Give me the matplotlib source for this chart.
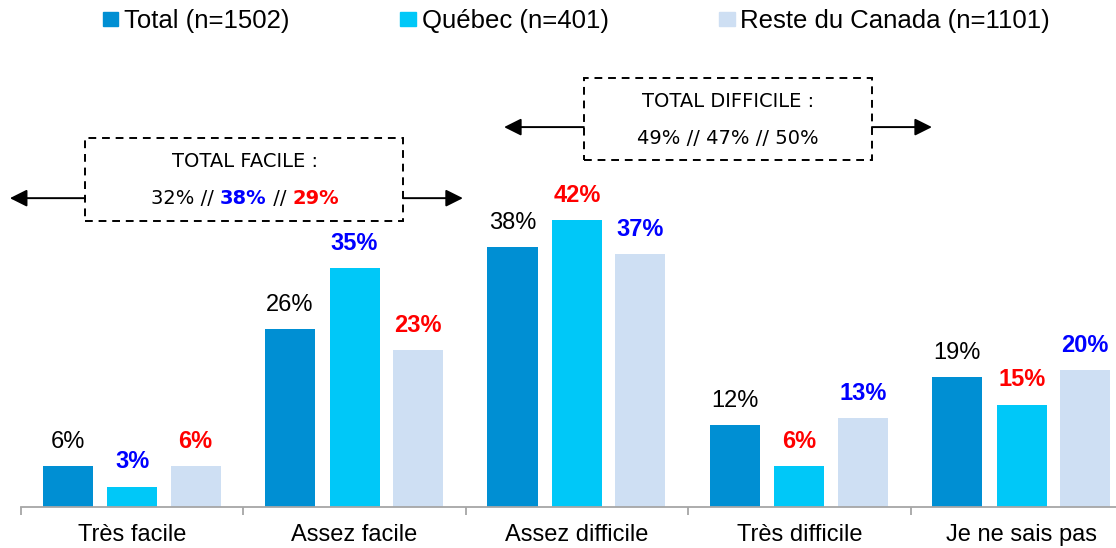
import matplotlib
matplotlib.use('Agg')
import matplotlib.pyplot as plt
from matplotlib.patches import Patch, Rectangle
from matplotlib.offsetbox import TextArea, HPacker, AnnotationBbox
import numpy as np

plt.rcParams['font.family'] = ['Liberation Sans', 'DejaVu Sans']

categories = ["Très facile", "Assez facile", "Assez difficile", "Très difficile", "Je ne sais pas"]
series_names = ["Total (n=1502)", "Québec (n=401)", "Reste du Canada (n=1101)"]
total = [6, 26, 38, 12, 19]
quebec = [3, 35, 42, 6, 15]
reste = [6, 23, 37, 13, 20]
# label colour per bar: 'k' plain, 'b' blue bold, 'r' red bold
quebec_flags = ['b', 'b', 'r', 'r', 'r']
reste_flags = ['r', 'r', 'b', 'b', 'b']

facile_line = [("32% // ", 'k'), ("38%", 'b'), (" // ", 'k'), ("29%", 'r')]
difficile_line = [("49% // 47% // 50%", 'k')]

COLORS = ["#008FD3", "#00C8F8", "#CEDFF3"]
LABEL = {'k': ("black", "normal"), 'b': ("#0000FF", "bold"), 'r': ("#FF0000", "bold")}

fig = plt.figure(figsize=(11.16, 5.48), dpi=100)
ax = fig.add_axes([21/1116, 41/548, 1112/1116, 507/548])

x = np.arange(len(categories))
offsets = [-0.29, 0.0, 0.285]
width = 0.225

series = [total, quebec, reste]
flags = [['k'] * 5, quebec_flags, reste_flags]
for vals, off, col, fl in zip(series, offsets, COLORS, flags):
    bars = ax.bar(x + off, vals, width, color=col, zorder=2)
    for b, v, f in zip(bars, vals, fl):
        c, w = LABEL[f]
        ax.annotate(f"{v}%", (b.get_x() + b.get_width()/2, v),
                    xytext=(0, 13), textcoords="offset points",
                    ha="center", va="baseline", fontsize=17, color=c, fontweight=w)

ax.set_xlim(-0.5, 4.5)
ax.set_ylim(0, 74.2)
for s in ["top", "right", "left"]:
    ax.spines[s].set_visible(False)
ax.spines["bottom"].set_color("#A6A6A6")
ax.spines["bottom"].set_linewidth(1.3)
ax.set_yticks([])
ax.set_xticks(x)
ax.set_xticklabels(categories, fontsize=17)
ax.tick_params(axis="x", which="major", length=0, pad=12.5)
ax.set_xticks(np.arange(-0.5, 5, 1), minor=True)
ax.tick_params(axis="x", which="minor", length=6, color="#A6A6A6", width=1.3)

# dashed summary boxes with arrows
def summary_box(x0, x1, y0, y1, ya, xl, xr, title, line, xc, yt, yl):
    ax.add_patch(Rectangle((x0, y0), x1 - x0, y1 - y0, fill=False, ec="black",
                           lw=1.4, ls=(0, (4, 3)), clip_on=False, zorder=3))
    for start, end in [(x0, xl), (x1, xr)]:
        ax.annotate("", xy=(end, ya), xytext=(start, ya),
                    arrowprops=dict(arrowstyle="-|>", color="black", lw=1.4,
                                    mutation_scale=26, shrinkA=0, shrinkB=0),
                    annotation_clip=False)
    ax.text(xc, yt, title, ha="center", va="center", fontsize=14,
            family="DejaVu Sans")
    parts = []
    for txt, f in line:
        c, w = LABEL[f]
        parts.append(TextArea(txt, textprops=dict(color=c, fontweight=w,
                                                  fontsize=14, family="DejaVu Sans")))
    pack = HPacker(children=parts, align="baseline", pad=0, sep=0)
    ax.add_artist(AnnotationBbox(pack, (xc, yl), frameon=False,
                                 box_alignment=(0.5, 0.5), annotation_clip=False))

summary_box(-0.212, 1.218, 41.9, 54.0, 45.2, -0.55, 1.487,
            "TOTAL FACILE :", facile_line, 0.507, 50.5, 45.1)
summary_box(2.031, 3.326, 50.8, 62.8, 55.6, 1.672, 3.596,
            "TOTAL DIFFICILE :", difficile_line, 2.679, 59.3, 53.9)

handles = [Patch(color=c) for c in COLORS]
fig.legend(handles, series_names, loc="center left",
           bbox_to_anchor=(103/1116, 1 - 21/548), ncol=3, frameon=False,
           fontsize=18.5, handlelength=0.6, handleheight=0.5,
           handletextpad=0.23, columnspacing=4.3, borderpad=0, borderaxespad=0)

fig.savefig("out.png", dpi=100)
